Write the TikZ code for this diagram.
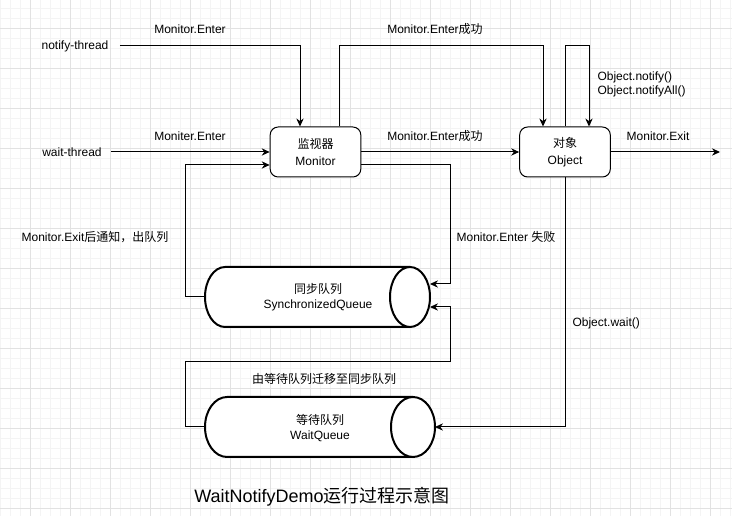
\documentclass[tikz,border=0pt]{standalone}
\usepackage{fontspec}
\setmainfont{Liberation Sans}
\newfontfamily\cjk{Noto Sans CJK SC}
\usetikzlibrary{arrows.meta,calc}
\newcommand{\zhtext}[1]{{\cjk #1}}

\tikzset{every picture/.style={line width=0.75pt}}
\tikzset{
  gridminor/.style={draw={rgb, 255:red, 244; green, 244; blue, 244 },line width=0.5pt},
  gridmajor/.style={draw={rgb, 255:red, 226; green, 226; blue, 226 },line width=0.75pt},
  flow/.style={-{Stealth[length=6pt,width=5.5pt]}},
  statebox/.style={draw,fill=white,rounded corners=6pt,minimum width=68pt,minimum height=37.5pt,inner sep=0pt,align=center,font=\fontsize{9}{12.5}\selectfont},
  queue/.style={line width=1.5pt,fill=white},
  queuetext/.style={inner sep=0.75pt,align=center,font=\fontsize{9}{11.5}\selectfont},
  lbl/.style={inner sep=0.75pt,font=\fontsize{9}{10.5}\selectfont}
}

\begin{document}
\begin{tikzpicture}[x=0.75pt,y=0.75pt,yscale=-1,xscale=1]
\useasboundingbox (0,0) rectangle (732,516);
\fill[white] (0,0) rectangle (732,516);

%Grid
\foreach \gx in {0.7,10.7,...,730.7} \draw[gridminor] (\gx,0) -- (\gx,516);
\foreach \gy in {8.3,18.3,...,508.3} \draw[gridminor] (0,\gy) -- (732,\gy);
\foreach \gx in {30.7,70.7,...,710.7} \draw[gridmajor] (\gx,0) -- (\gx,516);
\foreach \gy in {28.3,68.3,...,508.3} \draw[gridmajor] (0,\gy) -- (732,\gy);

%Shape: Cylinder [sync queue]
\draw[queue] (410,267) -- (225,267) arc[start angle=270,end angle=90,x radius=20,y radius=30] -- (410,327);
\draw[queue] (410,297) ellipse [x radius=20,y radius=30];
%Shape: Cylinder [wait queue]
\draw[queue] (413,397) -- (227,397) arc[start angle=270,end angle=90,x radius=22,y radius=30] -- (413,457);
\draw[queue] (413,427) ellipse [x radius=22,y radius=30];

\coordinate (sqW) at (205,297);
\coordinate (sqE1) at (430,284);
\coordinate (sqE2) at (430,307);
\coordinate (wqW) at (205,427);
\coordinate (wqE) at (435,427);
\coordinate (exit) at (720,152);

% Boxes
\node[statebox] (mon) at (315.5,152) {\zhtext{监视器}\\Monitor};
\node[statebox] (obj) at (565,152) {\zhtext{对象}\\Object};
\node[queuetext] (sq) at (318,297) {\zhtext{同步队列}\\SynchronizedQueue};
\node[queuetext] (wq) at (320,428) {\zhtext{等待队列}\\WaitQueue};

% Threads
\node[lbl] (nt) at (75,46) {notify-thread};
\node[lbl] (wt) at (72,152) {wait-thread};

%Straight Lines
\draw[flow] ($(nt.east)+(10,0)$) -| ($(mon.north)+(-15.5,0)$);
\draw[flow] ($(wt.east)+(8,0)$) -- (mon.west);
\draw[flow] (sqW) -- ++(-20,0) |- ($(mon.west)+(0,13)$);
\draw[flow] ($(mon.north)+(23.5,0)$) -- ++(0,-81) -| ($(obj.north)+(-22,0)$);
\draw[flow] (mon.east) -- (obj.west);
\draw[flow] ($(mon.east)+(0,13)$) -| ($(sqE1)+(20,0)$) -- (sqE1);
\draw[flow] (wqW) -- ++(-20,0) -- ++(0,-65) -| ($(sqE2)+(20,0)$) -- (sqE2);
\draw[flow] (obj.north) -- ++(0,-81) -| ($(obj.north)+(24,0)$);
\draw[flow] (obj.east) -- (exit);
\draw[flow] (obj.south) |- (wqE);

% Text Node
\node[lbl] (lblEnter) at (190,29) {Monitor.Enter};
\node[lbl] (lblMoniter) at (190,136) {Moniter.Enter};
\node[lbl] (lblExitNotify) at (95,237) {Monitor.Exit\zhtext{后通知，出队列}};
\node[lbl] (lblOkTop) at (435,29) {Monitor.Enter\zhtext{成功}};
\node[lbl] (lblOk) at (435,136) {Monitor.Enter\zhtext{成功}};
\node[lbl] (lblFail) at (506,237) {Monitor.Enter \zhtext{失败}};
\node[lbl,anchor=west,align=left] (lblNotify) at (596,84) {Object.notify()\\Object.notifyAll()};
\node[lbl] (lblExit) at (658,136) {Monitor.Exit};
\node[lbl,anchor=west] (lblWait) at (571,323) {Object.wait()};
\node[lbl] (lblMove) at (324,379) {\zhtext{由等待队列迁移至同步队列}};
\node[inner sep=0.75pt,font=\fontsize{13.5}{16}\selectfont] (title) at (322,497) {WaitNotifyDemo\zhtext{运行过程示意图}};

\end{tikzpicture}
\end{document}
